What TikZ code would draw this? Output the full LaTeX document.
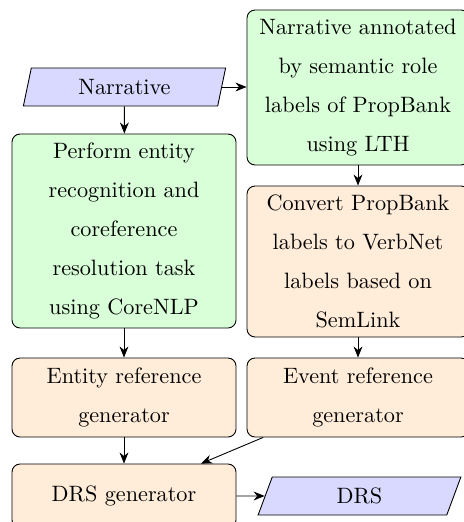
\documentclass[tikz,border=0pt]{standalone}
\usetikzlibrary{shapes.geometric,arrows.meta}
\begin{document}
\begin{tikzpicture}[x=0.45pt,y=-0.45pt,
  box/.style={draw, rounded corners=3.6pt, align=center, inner sep=2pt,
    font={\fontsize{10}{17.5}\selectfont}},
  procg/.style={box, fill=green!15},
  proco/.style={box, fill=orange!15},
  io/.style={draw, fill=blue!15, trapezium, trapezium left angle=80,
    trapezium right angle=100, trapezium stretches=true,
    minimum width=91.35pt, minimum height=17.1pt, inner sep=2pt,
    font={\fontsize{10}{12}\selectfont}},
  arr/.style={-{Stealth[length=5pt,width=4pt]}}]
\useasboundingbox (0,0) rectangle (463,522);
\node[io] (narr) at (124.5,87) {Narrative};
\node[procg, minimum width=99.9pt, minimum height=69.75pt] (ann) at (358,87.5)
  {Narrative annotated\\by semantic role\\labels of PropBank\\using LTH};
\node[procg, minimum width=100.8pt, minimum height=87.3pt] (ent) at (124,231)
  {Perform entity\\recognition and\\coreference\\resolution task\\using CoreNLP};
\node[proco, minimum width=99.9pt, minimum height=67.95pt] (conv) at (358,261.5)
  {Convert PropBank\\labels to VerbNet\\labels based on\\SemLink};
\node[proco, minimum width=100.8pt, minimum height=35.55pt] (eref) at (124,397.5)
  {Entity reference\\generator};
\node[proco, minimum width=99.9pt, minimum height=35.55pt] (evref) at (358,397.5)
  {Event reference\\generator};
\node[proco, minimum width=100.8pt, minimum height=28.8pt] (drsgen) at (124,496)
  {DRS generator};
\node[io] (drs) at (359.5,496) {DRS};
\draw[arr] (narr) -- (ent);
\draw[arr] (narr.east) -- (ann.west |- narr.east);
\draw[arr] (ann) -- (conv);
\draw[arr] (ent) -- (eref);
\draw[arr] (conv) -- (evref);
\draw[arr] (eref) -- (drsgen);
\draw[arr] (evref) -- (drsgen);
\draw[arr] (drsgen) -- (drs);
\end{tikzpicture}
\end{document}
